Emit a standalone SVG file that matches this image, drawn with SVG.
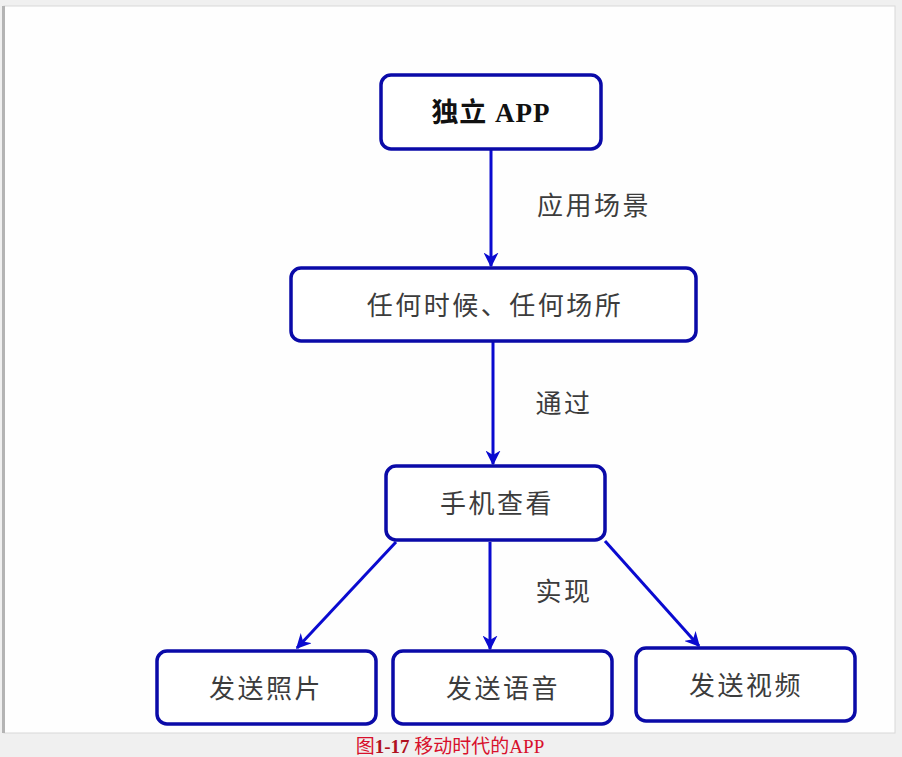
<svg xmlns="http://www.w3.org/2000/svg" width="902" height="757" viewBox="0 0 902 757">
<style>
.box{fill:#ffffff;stroke:#0a0aa8;stroke-width:3.5}
.lbl{font-family:"Noto Sans CJK SC","Liberation Sans",sans-serif;font-size:26px;fill:#3c3c3c;text-anchor:middle;letter-spacing:2.5px}
.edge{stroke:#0a0ad0;stroke-width:3;fill:none;marker-end:url(#ah)}
.cap{font-family:"Liberation Serif","Noto Sans CJK SC",serif;font-size:19px;fill:#d8102c;text-anchor:middle}
</style>
<defs>
<marker id="ah" viewBox="0 0 10 10" refX="9" refY="5" markerWidth="5" markerHeight="5" orient="auto" markerUnits="strokeWidth">
<path d="M0,0 L10,5 L0,10 L3,5 z" fill="#0a0ad0"/>
</marker>
</defs>
<rect x="0" y="0" width="902" height="757" fill="#f0f0f0"/>
<rect x="4" y="6" width="891" height="727" fill="#fefefe" stroke="#d8d8d8" stroke-width="1"/>
<rect x="2" y="6" width="3" height="727" fill="#b4b4b4"/>
<g id="connectors">
<line class="edge" x1="491" y1="150" x2="491" y2="266"/>
<line class="edge" x1="493" y1="342" x2="493" y2="464"/>
<line class="edge" x1="396" y1="542" x2="297" y2="648"/>
<line class="edge" x1="490" y1="542" x2="490" y2="649"/>
<line class="edge" x1="605" y1="541" x2="699" y2="646"/>
<text class="lbl" x="594" y="215">应用场景</text>
<text class="lbl" x="564" y="413">通过</text>
<text class="lbl" x="564" y="601">实现</text>
</g>
<g id="n1">
<rect class="box" x="381" y="75" width="220" height="74" rx="10"/>
<text x="491" y="122" font-family="Liberation Serif,'Noto Sans CJK SC',serif" font-weight="bold" font-size="27" fill="#111" text-anchor="middle" letter-spacing="1">独立 APP</text>
</g>
<g id="n2">
<rect class="box" x="291" y="268" width="405" height="73" rx="10"/>
<text class="lbl" x="495" y="315">任何时候、任何场所</text>
</g>
<g id="n3">
<rect class="box" x="386" y="466" width="219" height="74" rx="10"/>
<text class="lbl" x="497" y="513">手机查看</text>
</g>
<g id="n4">
<rect class="box" x="157" y="651" width="219" height="73" rx="10"/>
<text class="lbl" x="266" y="698">发送照片</text>
</g>
<g id="n5">
<rect class="box" x="393" y="651" width="219" height="73" rx="10"/>
<text class="lbl" x="503" y="698">发送语音</text>
</g>
<g id="n6">
<rect class="box" x="636" y="648" width="219" height="73" rx="10"/>
<text class="lbl" x="746" y="695">发送视频</text>
</g>
<text class="cap" x="450" y="753">图<tspan font-weight="bold" fill="#b01020">1-17</tspan> 移动时代的APP</text>
</svg>
